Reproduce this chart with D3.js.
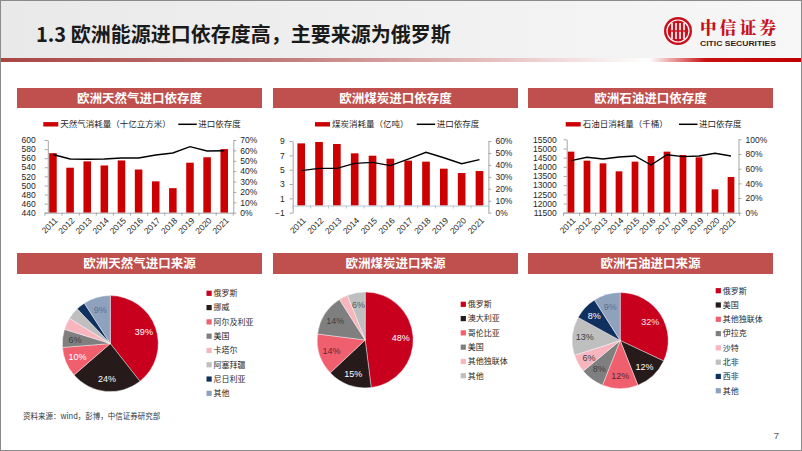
<!DOCTYPE html>
<html><head><meta charset="utf-8">
<script src="https://cdn.jsdelivr.net/npm/d3@7"></script>
<style>
html,body{margin:0;padding:0;background:#fff;}
svg{display:block;}
text{font-family:"Liberation Sans","Noto Sans CJK SC",sans-serif;}
</style></head><body>
<svg id="c" width="802" height="451"></svg>
<script>
// ---------------- data ----------------
const pageTitle = "1.3 欧洲能源进口依存度高，主要来源为俄罗斯";
const years = ["2011","2012","2013","2014","2015","2016","2017","2018","2019","2020","2021"];

const gasTitle = "欧洲天然气进口依存度";
const gasBarName = "天然气消耗量（十亿立方米）";
const gasConsumption = [571,539,553,544,555,535,509,494,550,562,580];
const gasDependence = [56,51.7,51.4,51.7,52.7,52.7,55.6,57.5,63.6,59.4,59.7];
const gasTicksLeft = [440,460,480,500,520,540,560,580,600];
const gasTicksRight = [0,10,20,30,40,50,60,70];

const coalTitle = "欧洲煤炭进口依存度";
const coalBarName = "煤炭消耗量（亿吨）";
const coalConsumption = [8.67,8.86,8.58,7.28,6.95,6.53,6.26,6.12,5.14,4.53,4.81];
const coalDependence = [35.2,37.1,37.1,41.3,42.1,39.4,44.9,50.5,46.0,41.0,44.4];
const coalTicksLeft = [-1,1,3,5,7,9];
const coalTicksRight = [0,10,20,30,40,50,60];

const oilTitle = "欧洲石油进口依存度";
const oilBarName = "石油日消耗量（千桶）";
const oilConsumption = [14827,14336,14190,13755,14282,14591,14827,14645,14518,12773,13445];
const oilDependence = [70.9,75.5,73.2,75.9,77.3,65.0,79.0,76.4,77.3,80.9,77.3];
const oilTicksLeft = [11500,12000,12500,13000,13500,14000,14500,15000,15500];
const oilTicksRight = [0,20,40,60,80,100];

const lineName = "进口依存度";

const gasSrcTitle = "欧洲天然气进口来源";
const gasSources = ["俄罗斯","挪威","阿尔及利亚","美国","卡塔尔","阿塞拜疆","尼日利亚","其他"];
const gasShares = [39,24,10,6,4,4,3,9];

const coalSrcTitle = "欧洲煤炭进口来源";
const coalSources = ["俄罗斯","澳大利亚","哥伦比亚","美国","其他独联体","其他"];
const coalShares = [48,15,14,14,3,6];

const oilSrcTitle = "欧洲石油进口来源";
const oilSources = ["俄罗斯","美国","其他独联体","伊拉克","沙特","北非","西非","其他"];
const oilShares = [32,12,12,8,6,13,8,9];

const sourceNote = "资料来源：wind，彭博，中信证券研究部";
const pageNo = "7";

// ---------------- styles ----------------
const RED = "#CC0000";
const BAND = "#C0504D";
const AXIS = "#A6A6A6";
const TXT = "#262626";
const palette8 = ["#C8001E","#261A1A","#EF5F6E","#7F7F7F","#F7B5BE","#BFBFBF","#10305F","#8EA2BE"];
const coalPalette = ["#C8001E","#261A1A","#EF5F6E","#7F7F7F","#F7B5BE","#BFBFBF"];

const svg = d3.select("#c");

// ---------------- header ----------------
const defs = svg.append("defs");
const hg = defs.append("linearGradient").attr("id","hg").attr("x1",0).attr("x2",1).attr("y1",0).attr("y2",0);
hg.append("stop").attr("offset",0).attr("stop-color","#E9E9E9");
hg.append("stop").attr("offset",1).attr("stop-color","#F7F7F7");
const sg = defs.append("linearGradient").attr("id","sg").attr("x1",0).attr("x2",1).attr("y1",0).attr("y2",0);
[[0,"#A94545"],[0.35,"#C27C7C"],[0.62,"#E6C1C1"],[0.81,"#FFFFFF"],[0.88,"#C81010"],[1,"#C00000"]]
  .forEach(s=>sg.append("stop").attr("offset",s[0]).attr("stop-color",s[1]));

svg.append("rect").attr("x",0).attr("y",0).attr("width",802).attr("height",58).attr("fill","url(#hg)");
svg.append("rect").attr("x",0).attr("y",58).attr("width",802).attr("height",4).attr("fill","url(#sg)");
svg.append("text").attr("x",36).attr("y",42).attr("font-size",20).attr("font-weight","bold")
  .attr("fill","#1A1A1A").style("font-family","'Noto Sans CJK SC',sans-serif").text(pageTitle);

// logo
const lg = svg.append("g").attr("transform","translate(678,31)");
lg.append("circle").attr("r",14).attr("fill","#C8101E");
lg.append("circle").attr("r",11).attr("fill","none").attr("stroke","#fff").attr("stroke-width",1.2);
[-6,-2,2,6].forEach(xx=>lg.append("rect").attr("x",xx-0.8).attr("y",-8).attr("width",1.6).attr("height",16).attr("fill","#fff"));
lg.append("rect").attr("x",-8).attr("y",-0.7).attr("width",16).attr("height",1.4).attr("fill","#C8101E");
svg.append("text").attr("x",700).attr("y",33.5).attr("font-size",16.5).attr("font-weight",900)
  .attr("fill","#C8101E").attr("textLength",76).style("font-family","'Noto Serif CJK SC','Noto Sans CJK SC',serif").text("中信证券");
svg.append("text").attr("x",700).attr("y",45.5).attr("font-size",7.5).attr("font-weight","bold")
  .attr("fill","#3a1a1a").attr("textLength",76).attr("lengthAdjust","spacingAndGlyphs")
  .style("font-family","'Liberation Sans Narrow','Liberation Sans',sans-serif").text("CITIC SECURITIES");

// ---------------- panel title bands ----------------
function band(x,y,h,label){
  svg.append("rect").attr("x",x).attr("y",y).attr("width",245).attr("height",h).attr("fill",BAND);
  svg.append("text").attr("x",x+122.5).attr("y",y+h/2+4.5).attr("text-anchor","middle")
    .attr("font-size",12.5).attr("font-weight","bold").attr("fill","#fff")
    .style("font-family","'Noto Sans CJK SC',sans-serif").text(label);
}
band(17,88,20,gasTitle); band(273,88,20,coalTitle); band(528,88,20,oilTitle);
band(17,253,21,gasSrcTitle); band(273,253,21,coalSrcTitle); band(528,253,21,oilSrcTitle);

// ---------------- combo charts ----------------
function combo(o){
  const g = svg.append("g");
  const n = years.length;
  const x = d3.scaleBand().domain(years).range(o.xr).paddingInner(o.pad).paddingOuter(o.pad/2);
  const xb = d3.scaleLinear().domain([0,n]).range(o.xr);
  const yL = d3.scaleLinear().domain(d3.extent(o.lt)).range([o.yb,o.yt]);
  const yR = d3.scaleLinear().domain(d3.extent(o.rt)).range([o.yb,o.yt]);

  g.selectAll("rect.bar").data(o.bars).join("rect").attr("class","bar")
    .attr("x",(d,i)=>x(years[i])).attr("width",x.bandwidth())
    .attr("y",d=>yL(d)).attr("height",d=>yL(o.base)-yL(d)).attr("fill",RED);

  const la = g.append("g").attr("transform",`translate(${o.axL},0)`)
    .call(d3.axisLeft(yL).tickValues(o.lt).tickSize(3).tickSizeOuter(0).tickPadding(o.lpad).tickFormat(d3.format("d")));
  const ra = g.append("g").attr("transform",`translate(${o.axR},0)`)
    .call(d3.axisRight(yR).tickValues(o.rt).tickSize(3).tickSizeOuter(0).tickPadding(4).tickFormat(d=>d+"%"));
  const ba = g.append("g").attr("transform",`translate(0,${yL(o.base)})`)
    .call(d3.axisBottom(xb).tickValues(d3.range(n+1)).tickSize(3).tickSizeOuter(0).tickFormat(""));
  [la,ra,ba].forEach(a=>{
    a.select(".domain").attr("stroke",a===ba?o.baseColor:AXIS);
    a.selectAll(".tick line").attr("stroke",a===ba?o.baseColor:AXIS);
    a.selectAll("text").attr("fill",TXT).attr("font-size",8.5).style("font-family","'Liberation Sans',sans-serif");
  });

  g.selectAll("text.xl").data(years).join("text").attr("class","xl")
    .attr("transform",d=>`translate(${x(d)+x.bandwidth()/2+3},219) rotate(-45)`)
    .attr("text-anchor","end").attr("dy","0.35em").attr("font-size",8.5).attr("fill",TXT).text(d=>d);

  g.append("path").datum(o.line)
    .attr("d",d3.line().x((d,i)=>x(years[i])+x.bandwidth()/2).y(d=>yR(d)))
    .attr("fill","none").attr("stroke","#000").attr("stroke-width",1.4);

  const ly = 124.3;
  g.append("rect").attr("x",o.lg[0]).attr("y",ly-2.2).attr("width",15).attr("height",4.4).attr("fill",RED);
  g.append("text").attr("x",o.lg[0]+17).attr("y",ly+3).attr("font-size",8.5).attr("fill",TXT).text(o.barName);
  g.append("line").attr("x1",o.lg[1]).attr("x2",o.lg[1]+18.5).attr("y1",ly).attr("y2",ly)
    .attr("stroke","#000").attr("stroke-width",1.5);
  g.append("text").attr("x",o.lg[1]+20).attr("y",ly+3).attr("font-size",8.5).attr("fill",TXT).text(lineName);
}

combo({bars:gasConsumption,line:gasDependence,lt:gasTicksLeft,rt:gasTicksRight,base:440,
  xr:[44.4,232.8],pad:0.56,axL:47.8,axR:233.3,yb:212.7,yt:140,lpad:9,baseColor:AXIS,
  lg:[43.3,178.3],barName:gasBarName});
combo({bars:coalConsumption,line:coalDependence,lt:coalTicksLeft,rt:coalTicksRight,base:0,
  xr:[292.3,488.4],pad:0.57,axL:292.7,axR:488.4,yb:212.7,yt:141,lpad:5,baseColor:"#B8C4D6",
  lg:[315,416.7],barName:coalBarName});
combo({bars:oilConsumption,line:oilDependence,lt:oilTicksLeft,rt:oilTicksRight,base:11500,
  xr:[563,739],pad:0.58,axL:566.7,axR:738.5,yb:212.7,yt:139.3,lpad:7,baseColor:AXIS,
  lg:[565.7,679],barName:oilBarName});

// ---------------- pies ----------------
function pieChart(o){
  const g = svg.append("g").attr("transform",`translate(${o.cx},${o.cy})`);
  const r = 48;
  const arcs = d3.pie().sort(null).value(d=>d)(o.values);
  const arc = d3.arc().innerRadius(0).outerRadius(r);
  const lab = d3.arc().innerRadius(r*0.74).outerRadius(r*0.74);
  g.selectAll("path").data(arcs).join("path").attr("d",arc)
    .attr("fill",(d,i)=>o.colors[i]).attr("stroke","#fff").attr("stroke-width",0.4);
  g.selectAll("text").data(arcs.filter(a=>a.data>=5)).join("text")
    .attr("transform",d=>`translate(${lab.centroid(d)})`)
    .attr("text-anchor","middle").attr("dy","0.35em").attr("font-size",9)
    .attr("fill",d=>o.labelColors[d.index]).text(d=>d.data+"%");
  const lgG = svg.append("g");
  o.names.forEach((nm,i)=>{
    const yy = o.ly + i*14.29;
    lgG.append("rect").attr("x",o.lx).attr("y",yy-2.6).attr("width",5.2).attr("height",5.2).attr("fill",o.colors[i]);
    lgG.append("text").attr("x",o.lx+7).attr("y",yy+2.9).attr("font-size",8).attr("fill",TXT)
      .style("font-family","'Noto Sans CJK SC',sans-serif").text(nm);
  });
}
const W="#FFFFFF", D="#404040";
pieChart({cx:110.3,cy:343.6,values:gasShares,names:gasSources,colors:palette8,
  labelColors:[W,W,W,D,D,D,W,"#5E6E88"],lx:206.5,ly:293.3});
pieChart({cx:365.2,cy:340,values:coalShares,names:coalSources,colors:coalPalette,
  labelColors:[W,W,"#5A2A30",D,D,"#595959"],lx:460.7,ly:304.3});
pieChart({cx:620.2,cy:340.5,values:oilShares,names:oilSources,colors:palette8,
  labelColors:["#FBE3E6",W,"#5A2A30",D,D,D,W,"#5E6E88"],lx:715.7,ly:290.7});

// ---------------- footer ----------------
svg.append("text").attr("x",23).attr("y",418.5).attr("font-size",7.5).attr("fill","#333")
  .style("font-family","'Noto Sans CJK SC',sans-serif").text(sourceNote);
svg.append("text").attr("x",779).attr("y",439).attr("text-anchor","end").attr("font-size",9.5).attr("fill","#555").text(pageNo);

svg.append("rect").attr("x",0.5).attr("y",0.5).attr("width",801).attr("height",450)
  .attr("fill","none").attr("stroke","#8A8A8A").attr("stroke-width",1);
</script>
</body></html>
